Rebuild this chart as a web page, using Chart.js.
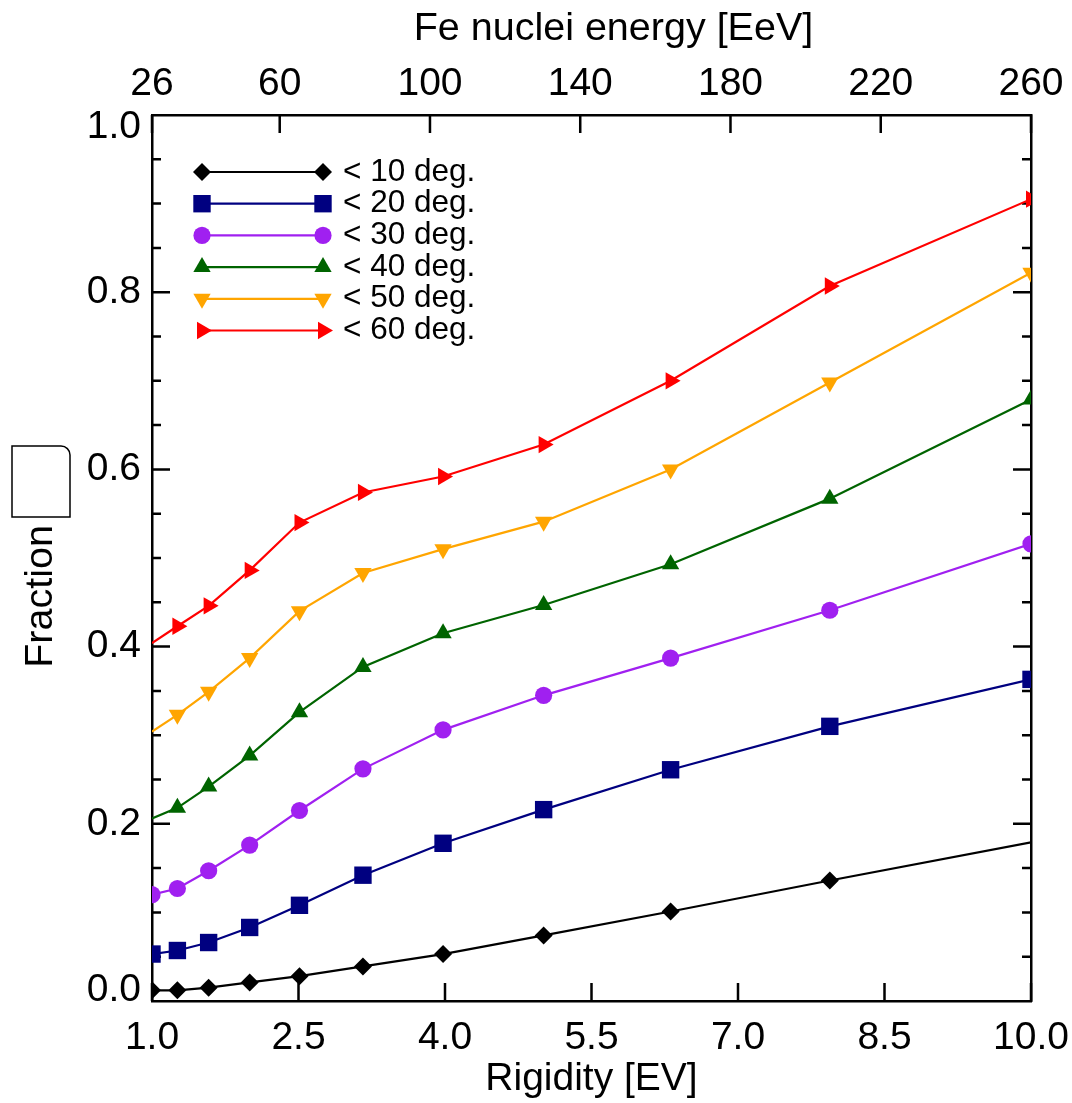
<!DOCTYPE html>
<html>
<head>
<meta charset="utf-8">
<title>Fraction vs rigidity</title>
<script src="https://cdn.jsdelivr.net/npm/chart.js@4.4.0/dist/chart.umd.min.js"></script>
<style>
  html, body { margin: 0; padding: 0; background: #fff; }
  #fractionChart { display: block; }
</style>
</head>
<body>
<canvas id="fractionChart" width="1072" height="1103"></canvas>
<script>
// rigidity of the simulated points [EV]
var rigidity = [1.0, 1.26, 1.58, 2.0, 2.51, 3.16, 3.98, 5.01, 6.31, 7.94, 10.0];

// fraction of events within each deflection angle
var below10 = [0.012, 0.012, 0.015, 0.021, 0.028, 0.039, 0.053, 0.074, 0.101, 0.136, 0.179];
var below20 = [0.053, 0.057, 0.066, 0.083, 0.108, 0.142, 0.178, 0.216, 0.261, 0.310, 0.363];
var below30 = [0.120, 0.127, 0.147, 0.176, 0.215, 0.262, 0.306, 0.345, 0.387, 0.441, 0.516];
var below40 = [0.206, 0.218, 0.242, 0.277, 0.326, 0.377, 0.415, 0.447, 0.493, 0.567, 0.679];
var below50 = [0.304, 0.323, 0.349, 0.387, 0.440, 0.483, 0.510, 0.541, 0.600, 0.698, 0.822];
var below60 = [0.404, 0.423, 0.446, 0.486, 0.540, 0.574, 0.592, 0.628, 0.700, 0.807, 0.905];

var seriesLabels = ['< 10 deg.', '< 20 deg.', '< 30 deg.', '< 40 deg.', '< 50 deg.', '< 60 deg.'];
var seriesValues = [below10, below20, below30, below40, below50, below60];

// axis ticks
var rigidityTicks = [1.0, 2.5, 4.0, 5.5, 7.0, 8.5, 10.0];
var energyTicks = [26, 60, 100, 140, 180, 220, 260];
var fractionTicks = [0.0, 0.2, 0.4, 0.6, 0.8, 1.0];

// look of each series (noMarker = points drawn without a symbol)
var seriesStyles = [
    { color: '#000000', shape: 'rectRot', rotation: 0, radius: 9, noMarker: [10] },
    { color: '#000080', shape: 'rect', rotation: 0, radius: 12.3, noMarker: [] },
    { color: '#a020f0', shape: 'circle', rotation: 0, radius: 8.6, noMarker: [] },
    { color: '#006400', shape: 'triangle', rotation: 0, radius: 10, noMarker: [0] },
    { color: '#ffa500', shape: 'triangle', rotation: 180, radius: 10, noMarker: [0] },
    { color: '#ff0000', shape: 'triangle', rotation: 90, radius: 10, noMarker: [0] }
];

var FONT = '"Liberation Sans", Arial, Helvetica, sans-serif';
Chart.defaults.font.family = FONT;
Chart.defaults.color = '#000';

var datasets = seriesValues.map(function(vals, i) {
    var st = seriesStyles[i];
    return {
        label: seriesLabels[i],
        data: rigidity.map(function(x, j) { return { x: x, y: vals[j] }; }),
        borderColor: st.color,
        backgroundColor: st.color,
        borderWidth: 2.2,
        pointStyle: st.shape,
        pointRotation: st.rotation,
        pointRadius: function(c) { return st.noMarker.indexOf(c.dataIndex) >= 0 ? 0 : st.radius; },
        pointBorderWidth: 0,
        tension: 0,
        clip: 0
    };
});

// inward tick marks on all four sides
var tickMarks = {
    id: 'tickMarks',
    beforeDatasetsDraw: function(chart) {
        var ctx = chart.ctx, a = chart.chartArea;
        var sx = chart.scales.x, sx2 = chart.scales.x2, sy = chart.scales.y;
        ctx.save();
        ctx.strokeStyle = '#000';
        ctx.lineWidth = 2.5;
        ctx.beginPath();
        rigidityTicks.forEach(function(v) {
            var px = sx.getPixelForValue(v);
            ctx.moveTo(px, a.bottom);
            ctx.lineTo(px, a.bottom - 18);
        });
        energyTicks.forEach(function(v) {
            var px = sx2.getPixelForValue(v);
            ctx.moveTo(px, a.top);
            ctx.lineTo(px, a.top + 18);
        });
        for (var i = 1; i < 20; i++) {
            var len = (i % 4 === 0) ? 18 : 9;
            var py = sy.getPixelForValue(i * 0.05);
            ctx.moveTo(a.left, py);
            ctx.lineTo(a.left + len, py);
            ctx.moveTo(a.right, py);
            ctx.lineTo(a.right - len, py);
        }
        ctx.stroke();
        ctx.restore();
    }
};

// legend with a line and a symbol at each end, plus the empty glyph box of the y title
var plotLegend = {
    id: 'plotLegend',
    afterDraw: function(chart) {
        var ctx = chart.ctx, a = chart.chartArea;
        var x0 = a.left + 50, x1 = a.left + 171, y0 = a.top + 57, gap = 31.7;
        ctx.save();
        chart.data.datasets.forEach(function(ds, i) {
            var st = seriesStyles[i], y = y0 + i * gap;
            ctx.strokeStyle = st.color;
            ctx.lineWidth = 2.2;
            ctx.beginPath();
            ctx.moveTo(x0, y);
            ctx.lineTo(x1, y);
            ctx.stroke();
            ctx.fillStyle = st.color;
            [x0, x1].forEach(function(x) {
                Chart.helpers.drawPoint(ctx, { pointStyle: st.shape, rotation: st.rotation, radius: st.radius, borderWidth: 0 }, x, y);
            });
            ctx.fillStyle = '#000';
            ctx.font = '31.5px ' + FONT;
            ctx.textAlign = 'left';
            ctx.textBaseline = 'middle';
            ctx.fillText(ds.label, x1 + 20, y);
        });

        var bx = 12, by = 446, bw = 58, bh = 71, r = 9;
        ctx.strokeStyle = '#000';
        ctx.lineWidth = 1.5;
        ctx.beginPath();
        ctx.moveTo(bx, by);
        ctx.lineTo(bx + bw - r, by);
        ctx.arcTo(bx + bw, by, bx + bw, by + r, r);
        ctx.lineTo(bx + bw, by + bh);
        ctx.lineTo(bx, by + bh);
        ctx.closePath();
        ctx.stroke();
        ctx.restore();
    }
};

var frame = { display: true, color: '#000', width: 2.5 };
var noGrid = { display: false, drawTicks: false };

// keep the plot frame where the original has it, whatever the label overhang
function fixSize(w, h) {
    return function(s) {
        if (w !== null) s.width = w;
        if (h !== null) s.height = h;
        s.paddingLeft = 0; s.paddingRight = 0; s.paddingTop = 0; s.paddingBottom = 0;
    };
}

new Chart(document.getElementById('fractionChart'), {
    type: 'line',
    data: { datasets: datasets },
    options: {
        responsive: false,
        animation: false,
        events: [],
        layout: { padding: 0 },
        plugins: { legend: { display: false }, tooltip: { enabled: false } },
        scales: {
            x: {
                type: 'linear', position: 'bottom', min: 1, max: 10,
                afterBuildTicks: function(s) { s.ticks = rigidityTicks.map(function(v) { return { value: v }; }); },
                afterFit: fixSize(null, 102),
                grid: noGrid, border: frame,
                ticks: { padding: 14, font: { size: 39 }, maxRotation: 0, autoSkip: false,
                    callback: function(v) { return v.toFixed(1); } },
                title: { display: true, text: 'Rigidity [EV]', font: { size: 39 }, padding: { top: 0, bottom: 0 } }
            },
            x2: {
                type: 'linear', position: 'top', min: 26, max: 260,
                afterBuildTicks: function(s) { s.ticks = energyTicks.map(function(v) { return { value: v }; }); },
                afterFit: fixSize(null, 115),
                grid: noGrid, border: frame,
                ticks: { padding: 7, font: { size: 39 }, maxRotation: 0, autoSkip: false,
                    callback: function(v) { return String(v); } },
                title: { display: true, text: '\u00a0\u00a0\u00a0\u00a0Fe nuclei energy [EeV]', font: { size: 39.5 }, padding: { top: 5, bottom: 0 } }
            },
            y: {
                type: 'linear', position: 'left', min: 0, max: 1,
                afterBuildTicks: function(s) { s.ticks = fractionTicks.map(function(v) { return { value: v }; }); },
                afterFit: fixSize(152, null),
                grid: noGrid, border: frame,
                ticks: {
                    padding: 11, autoSkip: false,
                    // end labels sit a little inside the frame, as in the original
                    font: function(c) {
                        if (c.tick && c.tick.value === 1) return { size: 39, lineHeight: '24px' };
                        if (c.tick && c.tick.value === 0) return { size: 39, lineHeight: '22px' };
                        return { size: 39 };
                    },
                    callback: function(v) {
                        var s = v.toFixed(1);
                        if (v === 1) return ['', s];
                        if (v === 0) return [s, ''];
                        return s;
                    }
                },
                title: { display: true, text: 'Fraction\u00a0\u00a0\u00a0\u00a0\u00a0\u00a0\u00a0', font: { size: 39.5 }, padding: { top: 17, bottom: 0 } }
            },
            y2: {
                type: 'linear', position: 'right', min: 0, max: 1,
                afterFit: fixSize(41, null),
                grid: noGrid, border: frame,
                ticks: { display: false }
            }
        }
    },
    plugins: [tickMarks, plotLegend]
});
</script>
</body>
</html>
